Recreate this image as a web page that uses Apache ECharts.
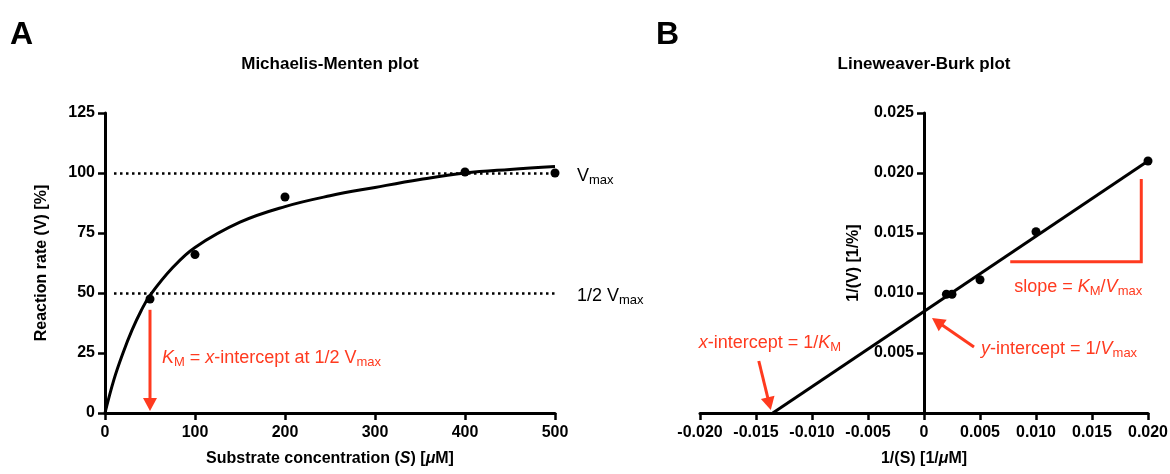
<!DOCTYPE html>
<html>
<head>
<meta charset="utf-8">
<script src="https://cdn.jsdelivr.net/npm/echarts@6/dist/echarts.min.js"></script>
<style>
  html, body { margin: 0; padding: 0; background: #fff; }
  #main { width: 1170px; height: 474px; }
</style>
</head>
<body>
<div id="main"></div>
<script>
// Panel A - Michaelis-Menten
var mmS = [50, 100, 200, 400, 500];
var mmV = [47.5, 66, 90, 100.4, 100];
var fitS = [0, 10, 20, 30, 40, 50, 75, 100, 150, 200, 250, 300, 350, 400, 450, 500];
var fitV = [0, 14, 25, 34.5, 42.5, 49, 60.5, 69, 79.5, 86, 90.5, 94, 97.3, 100, 101.5, 102.7];
var vmaxLevel = 100, halfLevel = 50;

// Panel B - Lineweaver-Burk
var lbX = [0.002, 0.0025, 0.005, 0.010, 0.020];
var lbY = [0.0099, 0.0099, 0.0111, 0.0151, 0.0210];
var lbLineX = [-0.0135, 0.020];
var lbLineY = [0, 0.0210];

var F = '"Liberation Sans", Arial, sans-serif';
var red = '#ff3a1f';

function pairs(xs, ys) {
  return xs.map(function (x, i) { return [x, ys[i]]; });
}

function axisCommon() {
  return {
    axisLine: {lineStyle: {color: '#000', width: 3}},
    axisTick: {show: true, length: 7, lineStyle: {color: '#000', width: 2.5}},
    axisLabel: {color: '#000', fontFamily: F, fontWeight: 'bold', fontSize: 16},
    splitLine: {show: false},
    nameTextStyle: {color: '#000', fontFamily: F, fontWeight: 'bold', fontSize: 16}
  };
}

function mk(extra) {
  var a = axisCommon();
  for (var k in extra) {
    if (typeof extra[k] === 'object' && a[k] && !Array.isArray(extra[k])) {
      for (var j in extra[k]) a[k][j] = extra[k][j];
    } else {
      a[k] = extra[k];
    }
  }
  return a;
}

var fmt3 = function (v) {
  if (Math.abs(v) < 1e-9) return '0';
  return v.toFixed(3);
};

var gridB = {left: 700, top: 113, width: 448, height: 300, outerBoundsMode: 'none'};
// y axis of panel B sits at x = 0, the middle of the grid
var bYOffset = -gridB.width / 2;

var option = {
  animation: false,
  backgroundColor: '#fff',
  grid: [
    {left: 105, top: 113, width: 450, height: 300, outerBoundsMode: 'none'},
    gridB
  ],
  xAxis: [
    mk({
      gridIndex: 0, type: 'value', min: 0, max: 500, interval: 100,
      name: '{b|Substrate concentration (}{bi|S}{b|) [}{bi|μ}{b|M]}',
      nameLocation: 'middle', nameGap: 38,
      axisLabel: {margin: 12},
      nameTextStyle: {rich: {
        b: {fontFamily: F, fontWeight: 'bold', fontSize: 16, color: '#000'},
        bi: {fontFamily: F, fontWeight: 'bold', fontStyle: 'italic', fontSize: 16, color: '#000'}
      }}
    }),
    mk({
      gridIndex: 1, type: 'value', min: -0.02, max: 0.02, interval: 0.005,
      name: '{b|1/(S) [1/}{bi|μ}{b|M]}',
      nameLocation: 'middle', nameGap: 38,
      axisLabel: {margin: 12, formatter: fmt3},
      nameTextStyle: {rich: {
        b: {fontFamily: F, fontWeight: 'bold', fontSize: 16, color: '#000'},
        bi: {fontFamily: F, fontWeight: 'bold', fontStyle: 'italic', fontSize: 16, color: '#000'}
      }}
    })
  ],
  yAxis: [
    mk({
      gridIndex: 0, type: 'value', min: 0, max: 125, interval: 25,
      name: 'Reaction rate (V) [%]', nameLocation: 'middle', nameGap: 55,
      axisLabel: {margin: 10}
    }),
    mk({
      gridIndex: 1, type: 'value', min: 0, max: 0.025, interval: 0.005,
      position: 'left', offset: bYOffset,
      name: '1/(V) [1/%]', nameLocation: 'middle', nameGap: 62,
      axisLine: {onZero: false},
      axisLabel: {margin: 10, formatter: function (v) { return Math.abs(v) < 1e-9 ? '' : v.toFixed(3); }}
    })
  ],
  series: [
    {
      type: 'line', xAxisIndex: 0, yAxisIndex: 0,
      data: pairs(fitS, fitV), smooth: 0.4, showSymbol: false, symbol: 'none',
      lineStyle: {color: '#000', width: 3}, silent: true, z: 3
    },
    {
      type: 'scatter', xAxisIndex: 0, yAxisIndex: 0,
      data: pairs(mmS, mmV), symbolSize: 9,
      itemStyle: {color: '#000', opacity: 1}, z: 4,
      markLine: {
        silent: true, symbol: 'none', label: {show: false},
        lineStyle: {color: '#000', width: 2.5, type: [2.5, 3.5]},
        data: [
          [{coord: [10, vmaxLevel]}, {coord: [500, vmaxLevel]}],
          [{coord: [10, halfLevel]}, {coord: [500, halfLevel]}]
        ]
      }
    },
    {
      type: 'line', xAxisIndex: 1, yAxisIndex: 1,
      data: pairs(lbLineX, lbLineY), showSymbol: false, symbol: 'none',
      lineStyle: {color: '#000', width: 3}, silent: true, z: 3
    },
    {
      type: 'scatter', xAxisIndex: 1, yAxisIndex: 1,
      data: pairs(lbX, lbY), symbolSize: 9,
      itemStyle: {color: '#000', opacity: 1}, z: 4
    }
  ]
};

var chart = echarts.init(document.getElementById('main'));
chart.setOption(option);

// annotations
function px(g, pt) { return chart.convertToPixel({gridIndex: g}, pt); }

function arrow(x1, y1, x2, y2) {
  var dx = x2 - x1, dy = y2 - y1, len = Math.sqrt(dx * dx + dy * dy);
  var ux = dx / len, uy = dy / len, hl = 13, hw = 7;
  var bx = x2 - ux * hl, by = y2 - uy * hl;
  return [
    {type: 'line', shape: {x1: x1, y1: y1, x2: bx + ux * 2, y2: by + uy * 2}, style: {stroke: red, lineWidth: 3}, z: 10},
    {type: 'polygon', shape: {points: [[x2, y2], [bx - uy * hw, by + ux * hw], [bx + uy * hw, by - ux * hw]]}, style: {fill: red}, z: 10}
  ];
}

function richSet(color) {
  return {
    n: {fontFamily: F, fontSize: 18, fill: color, lineHeight: 22},
    i: {fontFamily: F, fontSize: 18, fontStyle: 'italic', fill: color, lineHeight: 22},
    s: {fontFamily: F, fontSize: 13, fill: color, lineHeight: 13, verticalAlign: 'bottom'}
  };
}

function label(x, y, text, color) {
  return {
    type: 'text', x: x, y: y, z: 10,
    style: {text: text, fill: color, rich: richSet(color), verticalAlign: 'middle', align: 'left'}
  };
}

var g = [];
// big panel letters and titles
g.push({type: 'text', x: 10, y: 35, style: {text: 'A', font: 'bold 32px ' + F, fill: '#000', verticalAlign: 'middle'}});
g.push({type: 'text', x: 656, y: 35, style: {text: 'B', font: 'bold 32px ' + F, fill: '#000', verticalAlign: 'middle'}});
var a0 = px(0, [250, 0]);
var b0 = px(1, [0, 0]);
g.push({type: 'text', x: a0[0], y: 64, style: {text: 'Michaelis-Menten plot', font: 'bold 17px ' + F, fill: '#000', align: 'center', verticalAlign: 'middle'}});
g.push({type: 'text', x: b0[0], y: 64, style: {text: 'Lineweaver-Burk plot', font: 'bold 17px ' + F, fill: '#000', align: 'center', verticalAlign: 'middle'}});

// panel A
var pVmax = px(0, [500, vmaxLevel]);
var pHalf = px(0, [500, halfLevel]);
g.push(label(pVmax[0] + 22, pVmax[1] + 3, '{n|V}{s|max}', '#000'));
g.push(label(pHalf[0] + 22, pHalf[1] + 3, '{n|1/2 V}{s|max}', '#000'));
var kTop = px(0, [50, 43]);
var kBot = px(0, [50, 0]);
g = g.concat(arrow(kTop[0], kTop[1], kBot[0], kBot[1] - 2));
g.push(label(kTop[0] + 12, kTop[1] + 48, '{i|K}{s|M}{n| = }{i|x}{n|-intercept at 1/2 V}{s|max}', red));

// panel B
var xi = px(1, [lbLineX[0], 0]);
g = g.concat(arrow(xi[0] - 14, xi[1] - 52, xi[0] - 2, xi[1] - 3));
g.push(label(xi[0] - 74, xi[1] - 70, '{i|x}{n|-intercept = 1/}{i|K}{s|M}', red));
var yi = px(1, [0, 0.0085]);
g = g.concat(arrow(yi[0] + 50, yi[1] + 36, yi[0] + 8, yi[1] + 7));
g.push(label(yi[0] + 57, yi[1] + 38, '{i|y}{n|-intercept = 1/}{i|V}{s|max}', red));
var r1 = px(1, [0.0077, 0.0126]);
var r2 = px(1, [0.0194, 0.0126]);
var r3 = px(1, [0.0194, 0.0195]);
g.push({type: 'polyline', z: 10, shape: {points: [r1, r2, r3]}, style: {stroke: red, lineWidth: 3, fill: null}});
g.push(label(r1[0] + 4, r1[1] + 25, '{n|slope = }{i|K}{s|M}{n|/}{i|V}{s|max}', red));

chart.setOption({graphic: {elements: g}});
</script>
</body>
</html>
